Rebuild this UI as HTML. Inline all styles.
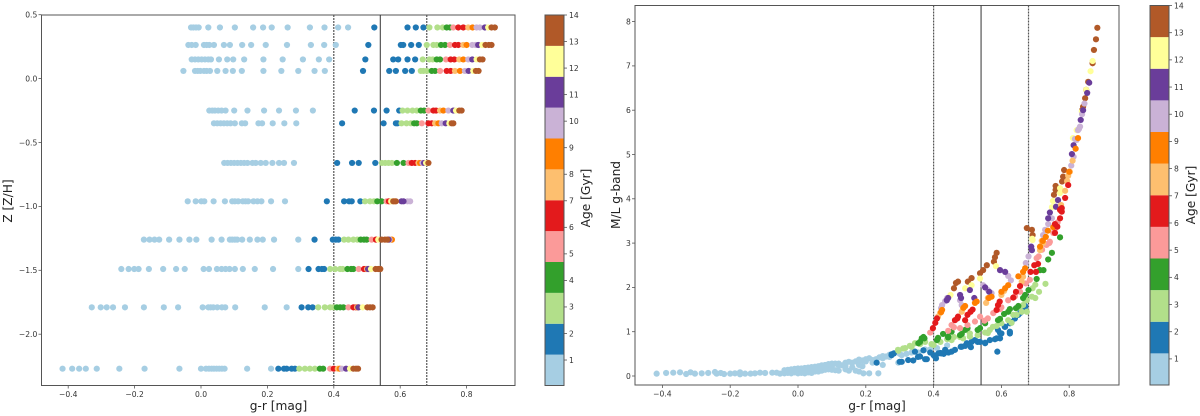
<!DOCTYPE html>
<html lang="en">
<head>
<meta charset="utf-8">
<title>Colour versus metallicity and mass-to-light ratio by age</title>
<style>
html,body{margin:0;padding:0;background:#fff;width:1200px;height:416px;overflow:hidden}
svg{display:block}
text{font-family:"DejaVu Sans","Liberation Sans",sans-serif;fill:#222}
.tick{font-size:7.6px;fill:#333}
.title{font-size:12.2px}
</style>
</head>
<body>
<svg id="fig" width="1200" height="416" viewBox="0 0 1200 416" xmlns="http://www.w3.org/2000/svg">
  <g id="left-panel"></g>
  <g id="left-bar"></g>
  <g id="right-panel"></g>
  <g id="right-bar"></g>
  <text class="title" x="278.5" y="410" text-anchor="middle">g-r [mag]</text>
  <text class="title" transform="translate(12,201) rotate(-90)" text-anchor="middle">Z [Z/H]</text>
  <text class="title" transform="translate(590,198) rotate(-90)" text-anchor="middle">Age [Gyr]</text>
  <text class="title" x="877" y="410" text-anchor="middle">g-r [mag]</text>
  <text class="title" transform="translate(620,195) rotate(-90)" text-anchor="middle">M/L g-band</text>
  <text class="title" transform="translate(1195,195) rotate(-90)" text-anchor="middle">Age [Gyr]</text>
</svg>
<script>
// Shared data
const bandColors = ['#a6cee3','#1f78b4','#b2df8a','#33a02c','#fb9a99','#e31a1c','#fdbf6f','#ff7f00','#cab2d6','#6a3d9a','#ffff99','#b15928'];
const ages = [0.6,1.8,3,4.1,5.3,6.4,7.6,8.8,9.9,11.1,12.3,13.4];
const ageLimits = [0.04,14];
const ageTicks = [1,2,3,4,5,6,7,8,9,10,11,12,13,14];
const colourLines = [0.4,0.68];
const colourMedian = [0.54];
const xTickValues = [-0.4,-0.2,0,0.2,0.4,0.6,0.8];
const xTickLabels = ['\u22120.4','\u22120.2','0.0','0.2','0.4','0.6','0.8'];
const zTickValues = [0.5,0,-0.5,-1,-1.5,-2];
const zTickLabels = ['0.5','0.0','\u22120.5','\u22121.0','\u22121.5','\u22122.0'];
const mlTickValues = [0,1,2,3,4,5,6,7,8];
const mlTickLabels = ['0','1','2','3','4','5','6','7','8'];

// Left panel: g-r values per metallicity row, one inner list per age in `ages`
const zLevels = [0.40,0.263,0.15,0.06,-0.25,-0.35,-0.66,-0.96,-1.26,-1.49,-1.79,-2.27];
const grZ1 = [[-.03,-.023,-.015,-.007,.022,.057,.102,.157,.187,.213,.261,.328,.372,.413,.443],[.522,.622,.647,.67],[.688,.712,.728],[.74,.75],[.76],[.775,.79],[.805],[.818],[.83,.84],[.855],[.865],[.875,.885]];
const grZ2 = [[-.038,-.028,-.016,.009,.017,.025,.039,.069,.087,.124,.151,.195,.259,.331,.371,.406],[.504,.602,.609,.633,.656],[.68,.70,.71],[.723,.735],[.75],[.765,.775],[.79],[.80],[.817,.827],[.835],[.847],[.857,.867,.875]];
const grZ3 = [[-.028,-.018,-.008,.002,.012,.022,.03,.054,.079,.097,.13,.188,.246,.307,.355,.386],[.495,.579,.594,.622,.645],[.668,.688,.698],[.71,.72],[.738],[.752,.763],[.778],[.79],[.805],[.817],[.83],[.84,.848]];
const grZ4 = [[-.053,-.018,-.01,-.002,.009,.017,.027,.049,.074,.096,.123,.188,.242,.293,.342,.373],[.488,.567,.587,.615,.635],[.662,.67,.68],[.695,.705],[.72],[.74,.752],[.765],[.78],[.795],[.806],[.82],[.828,.836]];
const grZ5 = [[.025,.034,.042,.052,.062,.074,.1,.14,.19,.235,.286,.337],[.463,.521,.559,.597],[.607,.622,.637,.65],[.662,.672],[.685],[.7,.708],[.72],[.73],[.745],[.76],[.768],[.778,.785]];
const grZ6 = [[.039,.049,.059,.069,.079,.089,.102,.123,.133,.173,.184,.216,.251,.287],[.425,.55,.587,.592],[.604,.619,.632],[.642,.65],[.665],[.685,.695],[.705],[.715],[.725],[.737],[.748],[.755,.76]];
const grZ7 = [[.07,.08,.09,.1,.11,.12,.13,.14,.155,.165,.18,.195,.215,.235,.25,.28],[.41,.455,.475,.525],[.545,.555,.565,.575],[.59,.61],[.625],[.635,.645],[.655],[.66],[.667],[.672],[.678],[.685]];
const grZ8 = [[-.04,-.016,.001,.01,.038,.072,.094,.102,.112,.126,.134,.142,.158,.17,.182,.211,.253],[.379,.431,.446,.454,.48],[.494,.509,.521],[.531,.544],[.559],[.566],[.572],[.583],[.622,.63],[.604,.61],[.574],[.579,.587]];
const grZ9 = [[-.172,-.155,-.14,-.126,-.096,-.065,-.035,-.014,.032,.062,.087,.094,.102,.109,.124,.147,.17,.186,.22,.293],[.342,.397,.406,.414],[.431,.444,.459,.471],[.481,.491,.499],[.514],[.527],[.57],[.575],[.568],[.565],[.534],[.544,.554,.561]];
const grZ10 = [[-.24,-.218,-.201,-.188,-.157,-.114,-.075,-.049,.008,.024,.048,.062,.074,.086,.102,.126,.162,.217,.293],[.324,.354,.364,.371],[.389,.404,.419,.427],[.441,.452,.459],[.475],[.491,.497],[.5],[.505],[.508],[.503],[.512],[.526,.534,.54]];
const grZ11 = [[-.329,-.302,-.284,-.265,-.229,-.172,-.112,-.069,.005,.022,.029,.037,.049,.063,.073,.103,.192,.258],[.303,.323,.336],[.353,.373,.389,.399],[.409,.419,.429],[.444],[.459,.467],[.47],[.473],[.476],[.474],[.487],[.501,.509,.517]];
const grZ12 = [[-.417,-.388,-.367,-.347,-.314,-.246,-.17,-.065,0,.015,.024,.032,.039,.047,.055,.063,.071,.139,.211],[.233,.25,.258,.273,.283],[.296,.313,.328,.343],[.358,.368],[.389],[.4],[.412],[.418],[.424],[.437],[.449],[.459,.467,.473]];
const grRows = [grZ1,grZ2,grZ3,grZ4,grZ5,grZ6,grZ7,grZ8,grZ9,grZ10,grZ11,grZ12];

// Right panel: [g-r, M/L] points read for each age
const mlAge1 = [[-.417,.053],[-.389,.068],[-.368,.075],[-.348,.083],[-.33,.045],[-.317,.083],[-.304,.053],[-.284,.06],[-.265,.068],[-.245,.09],[-.24,.053],[-.228,.068],[-.218,.045],[-.2,.053],[-.186,.06],[-.171,.083],[-.171,.038],[-.156,.053],[-.14,.053],[-.127,.06],[-.112,.075],[-.097,.068],[-.076,.075],[-.063,.075],[-.053,.053],[-.04,.06],[-.04,.13],[-.03,.07],[-.03,.14],[-.02,.06],[-.02,.1],[-.02,.15],[-.01,.08],[-.01,.16],[0,.06],[0,.11],[0,.17],[.01,.07],[.01,.17],[.02,.06],[.02,.18],[.03,.08],[.03,.13],[.03,.19],[.04,.07],[.04,.2],[.05,.1],[.05,.21],[.06,.1],[.06,.17],[.06,.22],[.07,.12],[.07,.24],[.08,.14],[.08,.19],[.08,.25],[.09,.15],[.09,.27],[.1,.14],[.1,.22],[.1,.28],[.11,.13],[.11,.28],[.12,.12],[.12,.24],[.12,.28],[.13,.24],[.14,.3],[.14,.22],[.14,.15],[.15,.32],[.15,.12],[.16,.3],[.16,.2],[.17,.33],[.17,.12],[.18,.37],[.18,.25],[.18,.1],[.19,.35],[.19,.22],[.193,.06],[.2,.38],[.2,.33],[.21,.4],[.21,.06],[.22,.36],[.237,.06],[.22,.3],[.23,.38],[.24,.42],[.25,.45],[.25,.4],[.25,.25],[.26,.44],[.27,.48],[.27,.43],[.28,.5],[.296,.3],[.3,.5],[.306,.47],[.32,.5],[.335,.53],[.355,.53],[.375,.6],[.39,.6],[.37,.58],[.41,.63],[.44,.69]];
const mlAge2 = [[.232,.3],[.276,.47],[.276,.49],[.283,.51],[.3,.32],[.306,.32],[.325,.36],[.34,.35],[.345,.55],[.354,.43],[.36,.44],[.37,.58],[.375,.38],[.38,.38],[.39,.53],[.4,.47],[.404,.44],[.407,.4],[.414,.51],[.42,.52],[.423,.51],[.43,.5],[.434,.59],[.444,.53],[.453,.55],[.463,.59],[.48,.66],[.483,.66],[.493,.68],[.498,.74],[.51,.65],[.512,.77],[.522,.81],[.53,.77],[.537,.77],[.552,.74],[.552,.75],[.566,.81],[.581,.83],[.586,.85],[.596,.85],[.596,.97],[.588,.55],[.59,1.04],[.6,.96],[.61,1.11],[.611,1.11],[.625,.96],[.625,1],[.625,1.19],[.63,1.22],[.64,1.3],[.65,1.38],[.655,1.42],[.66,1.49],[.67,1.56],[.67,1.58]];
const mlAge3 = [[.295,.59],[.296,.57],[.31,.62],[.316,.63],[.33,.68],[.335,.66],[.345,.74],[.36,.72],[.375,.77],[.394,.72],[.4,.7],[.413,.81],[.42,.77],[.44,.83],[.453,.81],[.46,.88],[.478,.88],[.487,.85],[.507,.89],[.507,.96],[.53,.92],[.552,.98],[.56,.97],[.566,1.04],[.575,1.11],[.586,1.13],[.6,1.19],[.62,1.26],[.63,1.2],[.635,1.38],[.645,1.38],[.655,1.56],[.664,1.6],[.67,1.71],[.675,1.71],[.69,1.79],[.7,1.76],[.675,1.45],[.66,1.45],[.692,1.98],[.7,2.06],[.711,1.9],[.73,2.08]];
const mlAge4 = [[.355,.74],[.36,.77],[.365,.85],[.37,.88],[.373,.85],[.41,.81],[.413,.86],[.428,.95],[.443,.87],[.443,.89],[.453,1],[.478,.92],[.483,.95],[.493,1.04],[.5,1.08],[.53,1.04],[.537,1.08],[.552,1.19],[.59,1.26],[.596,1.29],[.608,1.4],[.62,1.45],[.625,1.51],[.643,1.53],[.65,1.58],[.664,1.76],[.67,1.83],[.68,1.94],[.704,2.19],[.714,2.39],[.724,2.39],[.738,2.63],[.749,2.78],[.773,3.13]];
const mlAge5 = [[.39,.98],[.443,1.02],[.453,1.15],[.46,1.1],[.478,1.08],[.5,1.15],[.522,1.23],[.537,1.34],[.55,1.25],[.56,1.3],[.576,1.42],[.596,1.51],[.6,1.55],[.62,1.71],[.64,1.8],[.655,1.9],[.672,2.09],[.684,2.17],[.704,2.66],[.71,2.7],[.72,2.85],[.729,2.98],[.733,2.96],[.741,3],[.743,3.03],[.753,3.23],[.758,3.32],[.766,3.47]];
const mlAge6 = [[.398,1.08],[.405,1.2],[.41,1.3],[.463,1.26],[.47,1.3],[.472,1.34],[.493,1.26],[.5,1.38],[.509,1.45],[.515,1.5],[.586,1.49],[.59,1.6],[.595,1.68],[.635,1.77],[.643,1.9],[.655,2.03],[.686,2.35],[.702,2.35],[.697,2.5],[.708,2.53],[.758,3.23],[.765,3.37],[.758,3.43],[.773,3.56],[.778,3.71],[.773,3.75],[.778,3.79],[.788,4.02],[.797,4.31]];
const mlAge7 = [[.413,1.34],[.419,1.42],[.483,1.45],[.487,1.53],[.555,1.65],[.56,1.76],[.6,1.83],[.608,1.92],[.66,2.13],[.664,2.24],[.714,2.84],[.715,2.9],[.719,3.05],[.723,3],[.776,3.86],[.788,4.18],[.794,4.4],[.797,4.52],[.802,4.61],[.81,4.86]];
const mlAge8 = [[.422,1.44],[.425,1.49],[.488,1.54],[.493,1.58],[.522,1.65],[.527,1.68],[.563,1.76],[.571,1.79],[.6,1.9],[.611,1.98],[.62,2.05],[.65,2.25],[.664,2.35],[.67,2.43],[.714,2.92],[.722,3.05],[.731,3.14],[.737,3.28],[.753,3.36],[.8,4.61],[.819,5.13],[.826,5.37]];
const mlAge9 = [[.422,1.53],[.425,1.6],[.434,1.69],[.44,1.76],[.478,1.71],[.483,1.6],[.546,2.05],[.56,1.94],[.571,1.87],[.62,2.26],[.628,2.16],[.672,2.55],[.68,2.7],[.723,3.18],[.729,3.3],[.738,3.43],[.749,3.56],[.806,4.75],[.813,4.95],[.817,5.35],[.822,5.33],[.826,5.55],[.829,5.58],[.832,5.63],[.838,5.91],[.845,6.15]];
const mlAge10 = [[.439,1.71],[.443,1.76],[.478,1.83],[.481,1.76],[.507,1.94],[.52,1.76],[.552,2],[.564,1.9],[.596,2.39],[.611,2.35],[.688,2.92],[.69,2.84],[.738,3.56],[.743,3.69],[.761,3.82],[.767,3.97],[.808,5.01],[.813,5.21],[.834,5.78],[.841,6],[.853,6.39],[.859,6.62]];
const mlAge11 = [[.45,1.83],[.493,1.98],[.512,2.05],[.537,2.2],[.584,2.48],[.692,3.07],[.691,3.1],[.749,3.81],[.752,3.95],[.773,4.13],[.773,4.24],[.811,5.37],[.822,5.55],[.837,5.97],[.85,6.46],[.863,6.88],[.869,7.11]];
const mlAge12 = [[.46,1.98],[.466,2.1],[.472,2.13],[.501,2.13],[.512,2.21],[.537,2.32],[.546,2.39],[.557,2.5],[.578,2.58],[.581,2.68],[.586,2.78],[.675,3.34],[.69,3.3],[.692,3.18],[.755,4.09],[.76,4.2],[.76,4.29],[.779,4.39],[.782,4.5],[.785,4.65],[.838,6],[.841,6.08],[.847,6.27],[.85,6.46],[.856,6.64],[.869,7.06],[.873,7.36],[.879,7.6],[.883,7.86]];
const mlByAge = [mlAge1,mlAge2,mlAge3,mlAge4,mlAge5,mlAge6,mlAge7,mlAge8,mlAge9,mlAge10,mlAge11,mlAge12];
const mlDrawOrder = [0,1,2,3,11,10,4,8,9,6,7,5];

// Axis functions
const SVGNS = 'http://www.w3.org/2000/svg';
const leftX = v => 201 + 332 * v;
const leftY = v => 78.6 - 127.8 * v;
const rightX = v => 798 + 339 * v;
const rightY = v => 376 - 44.3 * v;
const leftBarY = v => 385.5 - (v - ageLimits[0]) / (ageLimits[1] - ageLimits[0]) * 370.5;
const rightBarY = v => 385 - (v - ageLimits[0]) / (ageLimits[1] - ageLimits[0]) * 379.5;
const axisLine = '#555';

function ageColor(age) {
  const span = (ageLimits[1] - ageLimits[0]) / bandColors.length;
  const i = Math.floor((age - ageLimits[0]) / span);
  return bandColors[Math.max(0, Math.min(bandColors.length - 1, i))];
}
function line(parent, x1, y1, x2, y2, color, width, dash, name) {
  const el = document.createElementNS(SVGNS, 'line');
  el.setAttribute('x1', x1);
  el.setAttribute('y1', y1);
  el.setAttribute('x2', x2);
  el.setAttribute('y2', y2);
  el.setAttribute('stroke', color);
  el.setAttribute('stroke-width', width);
  if (dash) el.setAttribute('stroke-dasharray', dash);
  
  
  parent.appendChild(el);
}
function label(parent, x, y, anchor, str, name) {
  const el = document.createElementNS(SVGNS, 'text');
  el.setAttribute('x', x);
  el.setAttribute('y', y);
  el.setAttribute('text-anchor', anchor);
  el.setAttribute('class', 'tick');
  
  
  el.textContent = str;
  parent.appendChild(el);
}
function frame(parent, x1, y1, x2, y2, name) {
  const el = document.createElementNS(SVGNS, 'rect');
  el.setAttribute('x', x1);
  el.setAttribute('y', y1);
  el.setAttribute('width', x2 - x1);
  el.setAttribute('height', y2 - y1);
  el.setAttribute('fill', 'none');
  el.setAttribute('stroke', axisLine);
  el.setAttribute('stroke-width', '1');
  
  
  parent.appendChild(el);
}
function dot(parent, cx, cy, color) {
  const el = document.createElementNS(SVGNS, 'circle');
  el.setAttribute('cx', cx);
  el.setAttribute('cy', cy);
  el.setAttribute('r', '3.1');
  el.setAttribute('fill', color);
  
  
  parent.appendChild(el);
}
function axes(parent, box, xFn, yFn, yValues, yLabels) {
  frame(parent, box[0], box[1], box[2], box[3], 'plot-frame');
  xTickValues.forEach((v, i) => {
    line(parent, xFn(v), box[3], xFn(v), box[3] + 3, axisLine, 0.8, '', 'x-tick');
    label(parent, xFn(v), box[3] + 11.5, 'middle', xTickLabels[i], 'x-tick-label');
  });
  yValues.forEach((v, i) => {
    line(parent, box[0] - 3, yFn(v), box[0], yFn(v), axisLine, 0.8, '', 'y-tick');
    label(parent, box[0] - 4.2, yFn(v) + 2.8, 'end', yLabels[i], 'y-tick-label');
  });
  colourLines.forEach(v => line(parent, xFn(v), box[1], xFn(v), box[3], '#555', 1.2, '2 1', 'colour-cut-dashed-line'));
  colourMedian.forEach(v => line(parent, xFn(v), box[1], xFn(v), box[3], '#333', 1, '', 'colour-median-line'));
}
function colorbar(parent, x1, x2, yFn) {
  const span = (ageLimits[1] - ageLimits[0]) / bandColors.length;
  bandColors.forEach((c, i) => {
    const top = yFn(ageLimits[0] + span * (i + 1));
    const bottom = yFn(ageLimits[0] + span * i);
    const el = document.createElementNS(SVGNS, 'rect');
    el.setAttribute('x', x1);
    el.setAttribute('y', top);
    el.setAttribute('width', x2 - x1);
    el.setAttribute('height', bottom - top);
    el.setAttribute('fill', c);
    
    
    parent.appendChild(el);
  });
  frame(parent, x1, yFn(ageLimits[1]), x2, yFn(ageLimits[0]), 'colorbar-outline');
  ageTicks.forEach(v => {
    line(parent, x2, yFn(v), x2 + 3, yFn(v), axisLine, 0.8, '', 'colorbar-tick');
    label(parent, x2 + 5, yFn(v) + 2.8, 'start', String(v), 'colorbar-tick-label');
  });
}

// Left panel
const leftPanel = document.getElementById('left-panel');
axes(leftPanel, [41.5, 15, 515, 385.5], leftX, leftY, zTickValues, zTickLabels);
grRows.forEach((row, r) => {
  row.forEach((list, a) => {
    list.forEach(gr => dot(leftPanel, leftX(gr), leftY(zLevels[r]), ageColor(ages[a])));
  });
});
colorbar(document.getElementById('left-bar'), 545, 564, leftBarY);

// Right panel
const rightPanel = document.getElementById('right-panel');
axes(rightPanel, [635, 5.5, 1119, 385], rightX, rightY, mlTickValues, mlTickLabels);
mlDrawOrder.forEach(a => {
  mlByAge[a].forEach(p => dot(rightPanel, rightX(p[0]), rightY(p[1]), ageColor(ages[a])));
});
colorbar(document.getElementById('right-bar'), 1150, 1169, rightBarY);
</script>
</body>
</html>
